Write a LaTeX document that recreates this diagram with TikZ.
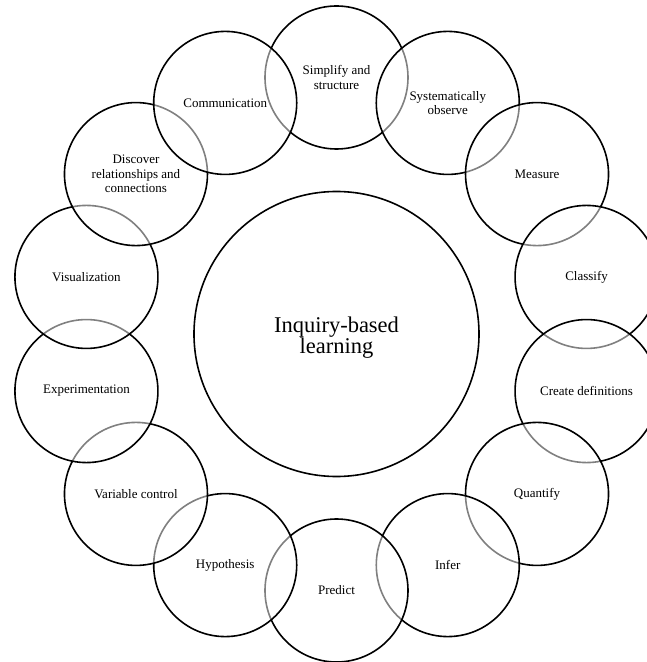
\documentclass[tikz,border=0pt]{standalone}
\usepackage{fontspec}
\setmainfont{Liberation Serif}

\begin{document}
\begin{tikzpicture}[x=1bp, y=1bp]
    \tikzset{
        skill/.style={
            circle, draw, line width=1.6bp,
            fill=white, fill opacity=0.5, text opacity=1,
            minimum size=143bp, inner sep=0pt, align=center,
            font=\fontsize{13bp}{14.5bp}\selectfont
        },
        core/.style={
            circle, draw, line width=1.6bp, fill=white,
            minimum size=285bp, inner sep=0pt
        },
        coretext/.style={
            align=center, inner sep=0pt,
            font=\fontsize{22.5bp}{20bp}\selectfont
        }
    }
    \useasboundingbox (-336.5,-328) rectangle (310.5,334);
    \clip (-336.5,-328) rectangle (310.5,334);

    \node[core] (ibl) at (0,0) {};
    \node[coretext] (ibltext) at ([yshift=-3.5bp] ibl.center) {Inquiry-based\\learning};

    % ring of skills, clockwise from the top
    \node[skill] (simplify)   at ([shift={(90:256.5)}] ibl.center)       {Simplify and\\structure};
    \node[skill] (observe)    at ([shift={(64.286:256.5)}] ibl.center)   {Systematically\\observe};
    \node[skill] (measure)    at ([shift={(38.571:256.5)}] ibl.center)   {Measure};
    \node[skill] (classify)   at ([shift={(12.857:256.5)}] ibl.center)   {Classify};
    \node[skill] (define)     at ([shift={(-12.857:256.5)}] ibl.center)  {Create definitions};
    \node[skill] (quantify)   at ([shift={(-38.571:256.5)}] ibl.center)  {Quantify};
    \node[skill] (infer)      at ([shift={(-64.286:256.5)}] ibl.center)  {Infer};
    \node[skill] (predict)    at ([shift={(-90:256.5)}] ibl.center)      {Predict};
    \node[skill] (hypo)       at ([shift={(-115.714:256.5)}] ibl.center) {Hypothesis};
    \node[skill] (varctrl)    at ([shift={(-141.429:256.5)}] ibl.center) {Variable control};
    \node[skill] (experiment) at ([shift={(-167.143:256.5)}] ibl.center) {Experimentation};
    \node[skill] (visual)     at ([shift={(167.143:256.5)}] ibl.center)  {Visualization};
    \node[skill] (discover)   at ([shift={(141.429:256.5)}] ibl.center)  {Discover\\relationships and\\connections};
    \node[skill] (comm)       at ([shift={(115.714:256.5)}] ibl.center)  {Communication};
\end{tikzpicture}
\end{document}
